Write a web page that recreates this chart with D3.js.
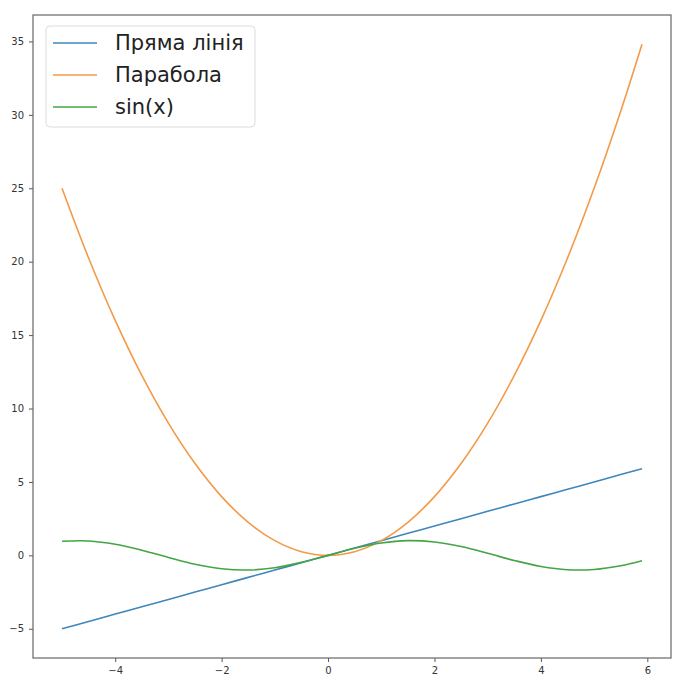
<!DOCTYPE html>
<html>
<head>
<meta charset="utf-8">
<script src="https://cdn.jsdelivr.net/npm/d3@7"></script>
<style>
  body { margin: 0; background: #fff; }
  svg { display: block; font-family: "DejaVu Sans", sans-serif; }
</style>
</head>
<body>
<div id="chart"></div>
<script>
// values
const xValues = [-5, -4.5, -4, -3.5, -3, -2.5, -2, -1.5, -1, -0.5, 0, 0.5, 1, 1.5, 2, 2.5, 3, 3.5, 4, 4.5, 5, 5.5, 5.9];
const lineValues = [-5, -4.5, -4, -3.5, -3, -2.5, -2, -1.5, -1, -0.5, 0, 0.5, 1, 1.5, 2, 2.5, 3, 3.5, 4, 4.5, 5, 5.5, 5.9];
const parabolaValues = [25, 20.25, 16, 12.25, 9, 6.25, 4, 2.25, 1, 0.25, 0, 0.25, 1, 2.25, 4, 6.25, 9, 12.25, 16, 20.25, 25, 30.25, 34.81];
const sinValues = [0.96, 0.98, 0.76, 0.35, -0.14, -0.6, -0.91, -1.0, -0.84, -0.48, 0, 0.48, 0.84, 1.0, 0.91, 0.6, 0.14, -0.35, -0.76, -0.98, -0.96, -0.71, -0.37];
const seriesLabels = ["Пряма лінія", "Парабола", "sin(x)"];
const xTicks = [-4, -2, 0, 2, 4, 6];
const yTicks = [-5, 0, 5, 10, 15, 20, 25, 30, 35];

const width = 681;
const height = 690;
const margin = {top: 15, right: 10, bottom: 32, left: 33};
const colors = ["#3f86bb", "#f39a48", "#44a544"];

const series = [lineValues, parabolaValues, sinValues].map((values, i) => ({
  label: seriesLabels[i],
  color: colors[i],
  points: values.map((v, j) => ({x: xValues[j], y: v}))
}));

const svg = d3.select("#chart")
  .append("svg")
  .attr("width", width)
  .attr("height", height);

// matplotlib style 5% padding around the data
const xMin = d3.min(xValues), xMax = d3.max(xValues);
const yMin = d3.min(series, s => d3.min(s.points, p => p.y));
const yMax = d3.max(series, s => d3.max(s.points, p => p.y));
const xPad = (xMax - xMin) * 0.05;
const yPad = (yMax - yMin) * 0.05;

const x = d3.scaleLinear()
  .domain([xMin - xPad, xMax + xPad])
  .range([margin.left, width - margin.right]);

const y = d3.scaleLinear()
  .domain([yMin - yPad, yMax + yPad])
  .range([height - margin.bottom, margin.top]);

const line = d3.line()
  .x(d => x(d.x))
  .y(d => y(d.y))
  .curve(d3.curveCatmullRom.alpha(0.5));

svg.append("g")
  .selectAll("path")
  .data(series)
  .enter()
  .append("path")
  .attr("fill", "none")
  .attr("stroke", d => d.color)
  .attr("stroke-width", 1.6)
  .attr("d", d => line(d.points));

// axes
const xAxis = svg.append("g")
  .attr("transform", `translate(0,${height - margin.bottom})`)
  .call(d3.axisBottom(x).tickValues(xTicks).tickSize(4).tickPadding(5)
    .tickFormat(d => d < 0 ? "\u2212" + Math.abs(d) : d));

const yAxis = svg.append("g")
  .attr("transform", `translate(${margin.left},0)`)
  .call(d3.axisLeft(y).tickValues(yTicks).tickSize(4).tickPadding(5)
    .tickFormat(d => d < 0 ? "\u2212" + Math.abs(d) : d));

[xAxis, yAxis].forEach(ax => {
  ax.select(".domain").remove();
  ax.selectAll("line").attr("stroke", "#555");
  ax.selectAll("text")
    .attr("fill", "#333")
    .style("font-size", "10px")
    .style("font-family", "DejaVu Sans");
});

// frame
svg.append("rect")
  .attr("x", margin.left)
  .attr("y", margin.top)
  .attr("width", width - margin.left - margin.right)
  .attr("height", height - margin.top - margin.bottom)
  .attr("fill", "none")
  .attr("stroke", "#666")
  .attr("stroke-width", 1.2);

// legend
const legend = svg.append("g").attr("transform", "translate(46,26)");

legend.append("rect")
  .attr("width", 209)
  .attr("height", 101)
  .attr("rx", 4)
  .attr("fill", "white")
  .attr("fill-opacity", 0.8)
  .attr("stroke", "#dcdcdc");

const rows = legend.selectAll("g.row")
  .data(series)
  .enter()
  .append("g")
  .attr("class", "row")
  .attr("transform", (d, i) => `translate(0,${17 + i * 32})`);

rows.append("line")
  .attr("x1", 7)
  .attr("x2", 51)
  .attr("stroke", d => d.color)
  .attr("stroke-width", 1.6);

rows.append("text")
  .attr("x", 69)
  .attr("dy", "0.35em")
  .attr("fill", "#222")
  .style("font-size", "21px")
  .text(d => d.label);
</script>
</body>
</html>
